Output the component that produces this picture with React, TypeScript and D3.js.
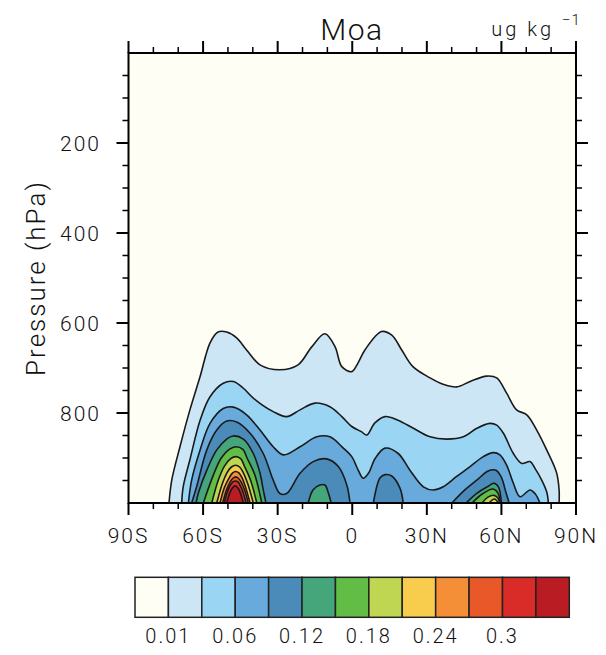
import React from "react";
import * as d3 from "d3";

// contour levels (ug kg-1) and fill colours (one more colour than levels)
const levels = [0.01, 0.03, 0.06, 0.09, 0.12, 0.15, 0.18, 0.21, 0.24, 0.27, 0.3, 0.33];
const fillColors = [
  "#fefef4", "#cde6f6", "#9bd5f4", "#68aadb", "#4a8bba", "#44a67a", "#62bd47",
  "#bfd652", "#f8cd4e", "#f48f38", "#e95828", "#d92b28", "#b91c22",
];
const colorbarLabels = ["0.01", "0.06", "0.12", "0.18", "0.24", "0.3"];

const latTicks = [-90, -60, -30, 0, 30, 60, 90];
const latLabels = ["90S", "60S", "30S", "0", "30N", "60N", "90N"];
const presTicks = [200, 400, 600, 800];

// contour tops, [lat, hPa], one list of lobes per level
const c001 = [[
  [-73.7, 1000], [-72.6, 949], [-69.3, 875], [-65.3, 793], [-61.2, 719], [-57.2, 644],
  [-54.0, 620], [-50.5, 620], [-46.5, 633], [-42.5, 660], [-37.1, 693], [-29.1, 704],
  [-21.8, 693], [-16.3, 653], [-11.0, 624], [-6.9, 653], [-4.2, 697], [-0.2, 708],
  [2.3, 689], [5.1, 660], [11.8, 619], [15.9, 627], [19.9, 660], [24.4, 697],
  [31.3, 722], [36.5, 736], [42.0, 742], [47.4, 730], [54.1, 718], [58.1, 722],
  [62.1, 756], [66.1, 793], [70.2, 804], [74.2, 838], [78.2, 882], [82.2, 933],
  [83.2, 971], [83.2, 1000],
]];
const c003 = [[
  [-68.6, 1000], [-68.0, 964], [-65.3, 904], [-61.2, 816], [-57.2, 764], [-51.9, 734],
  [-47.8, 730], [-43.8, 745], [-39.8, 767], [-31.8, 797], [-26.4, 808], [-21.0, 793],
  [-15.0, 778], [-9.0, 786], [-4.2, 808], [-0.2, 830], [3.8, 842], [5.8, 849],
  [9.1, 822], [13.2, 808], [18.4, 816], [24.6, 834], [31.3, 853], [38.0, 858],
  [44.7, 853], [50.1, 834], [55.4, 823], [58.1, 827], [60.8, 845], [64.8, 890],
  [68.2, 912], [71.5, 908], [73.5, 923], [76.2, 949], [78.2, 975], [78.9, 1000],
]];
const c006 = [[
  [-65.9, 1000], [-64.6, 949], [-61.2, 882], [-57.2, 823], [-51.9, 790], [-47.8, 787],
  [-42.5, 804], [-37.1, 838], [-31.8, 875], [-27.7, 893], [-21.0, 875], [-14.3, 853],
  [-9.0, 853], [-3.6, 878], [-0.2, 897], [2.4, 927], [4.4, 945], [6.5, 934],
  [9.2, 901], [13.2, 878], [18.5, 890], [23.2, 927], [28.6, 964], [32.6, 971],
  [36.6, 964], [42.0, 941], [47.4, 919], [52.7, 897], [56.7, 888], [59.4, 893],
  [62.1, 916], [64.8, 956], [67.5, 986], [71.5, 971], [73.5, 979], [75.5, 1000],
]];
const c009 = [
  [[-64.6, 1000], [-62.6, 964], [-58.5, 882], [-54.5, 838], [-50.5, 818], [-46.5, 820],
   [-41.1, 845], [-35.8, 890], [-31.8, 949], [-29.1, 979], [-26.4, 979], [-21.0, 934],
   [-15.7, 908], [-10.3, 902], [-5.6, 919], [-2.2, 960], [-0.9, 1000]],
  [[8.5, 1000], [11.2, 944], [13.2, 937], [15.9, 940], [19.2, 967], [20.5, 1000]],
  [[40.1, 1000], [45.3, 971], [50.6, 947], [54.6, 929], [57.8, 927], [59.9, 942],
   [61.8, 976], [63.1, 1000]],
];
const c012 = [
  [[-62.8, 1000], [-61.9, 978], [-58.5, 927], [-54.5, 882], [-50.5, 858], [-48.0, 851],
   [-43.8, 858], [-39.8, 890], [-37.1, 934], [-35.8, 971], [-34.7, 1000]],
  [[-17.7, 1000], [-15.8, 971], [-13.0, 960], [-11.0, 960], [-9.6, 978], [-8.5, 1000]],
  [[45.8, 1000], [50.2, 978], [54.3, 964], [57.0, 956], [58.8, 964], [60.0, 1000]],
];
const c015 = [
  [[-59.9, 1000], [-55.8, 937], [-52.7, 900], [-49.5, 881], [-46.8, 875], [-44.0, 881],
   [-42.3, 900], [-39.2, 937], [-36.4, 1000]],
  [[48.2, 1000], [52.3, 980], [56.6, 969], [58.6, 978], [59.6, 1000]],
];
const c018 = [
  [[-56.5, 1000], [-53.8, 948], [-51.4, 918], [-49.0, 902], [-46.8, 897], [-44.8, 902],
   [-43.4, 918], [-41.0, 948], [-38.4, 1000]],
  [[52.2, 1000], [54.6, 987], [57.0, 983], [58.6, 989], [59.3, 1000]],
];
const c021 = [
  [[-54.5, 1000], [-52.3, 958], [-50.4, 933], [-48.6, 920], [-46.9, 916], [-45.3, 920],
   [-43.8, 933], [-42.0, 958], [-39.8, 1000]],
  [[55.0, 1000], [57.2, 991], [58.8, 1000]],
];
const c024 = [[
  [-53.2, 1000], [-51.4, 965], [-49.5, 944], [-48.1, 933], [-46.9, 930], [-45.6, 933],
  [-44.3, 944], [-42.9, 965], [-41.1, 1000],
]];
const c027 = [[
  [-52.1, 1000], [-50.6, 971], [-49.2, 954], [-48.0, 945], [-46.9, 942], [-45.8, 945],
  [-44.6, 954], [-43.3, 971], [-41.8, 1000],
]];
const c030 = [[
  [-51.5, 1000], [-50.2, 975], [-49.1, 961], [-48.0, 953], [-47.0, 951], [-46.0, 953],
  [-45.1, 961], [-44.0, 975], [-42.7, 1000],
]];
const c033 = [[
  [-50.5, 1000], [-49.5, 981], [-48.6, 970], [-47.8, 964], [-47.1, 962], [-46.4, 964],
  [-45.6, 970], [-44.8, 981], [-43.8, 1000],
]];

const contours = [c001, c003, c006, c009, c012, c015, c018, c021, c024, c027, c030, c033];

const font = "Roboto, 'Liberation Sans', sans-serif";
const fw = 300;

export default function App() {
  const left = 128.5, right = 576, top = 53, bottom = 503;
  const x = d3.scaleLinear().domain([-90, 90]).range([left, right]);
  const y = d3.scaleLinear().domain([0, 1000]).range([top, bottom]);

  const line = d3
    .line<number[]>()
    .x((d) => x(d[0]))
    .y((d) => y(d[1]))
    .curve(d3.curveCatmullRom.alpha(0.5));

  const minorLat = d3.range(-80, 90, 10).filter((v) => v % 30 !== 0);
  const minorPres = d3.range(50, 1000, 50).filter((v) => v % 200 !== 0);

  // colorbar
  const cbLeft = 135, cbRight = 569.3, cbTop = 577.3, cbBottom = 617.3;
  const cb = d3.scaleLinear().domain([0, fillColors.length]).range([cbLeft, cbRight]);

  const axisW = 2;

  return (
    <svg width={606} height={655} style={{ position: "absolute", left: 0, top: 0, background: "#fff" }}>
      <defs>
        <clipPath id="plot">
          <rect x={left} y={top} width={right - left} height={bottom - top} />
        </clipPath>
      </defs>

      <rect x={left} y={top} width={right - left} height={bottom - top} fill={fillColors[0]} />

      <g clipPath="url(#plot)">
        {contours.map((lobes, i) =>
          lobes.map((pts, j) => (
            <path key={`f${i}-${j}`} d={line(pts as number[][]) + "Z"} fill={fillColors[i + 1]} stroke="none" />
          ))
        )}
        {contours.map((lobes, i) =>
          lobes.map((pts, j) => (
            <path key={`l${i}-${j}`} d={line(pts as number[][]) || ""} fill="none" stroke="#1a1a1a" strokeWidth={1.6} />
          ))
        )}
      </g>

      {/* frame */}
      <rect x={left} y={top} width={right - left} height={bottom - top} fill="none" stroke="#000" strokeWidth={axisW} />

      {/* latitude ticks, bottom and top */}
      {latTicks.map((v) => (
        <g key={`lt${v}`}>
          <line x1={x(v)} x2={x(v)} y1={bottom} y2={bottom + 12} stroke="#000" strokeWidth={axisW} />
          <line x1={x(v)} x2={x(v)} y1={top} y2={top - 12} stroke="#000" strokeWidth={axisW} />
        </g>
      ))}
      {minorLat.map((v) => (
        <g key={`lm${v}`}>
          <line x1={x(v)} x2={x(v)} y1={bottom} y2={bottom + 6} stroke="#000" strokeWidth={1.5} />
          <line x1={x(v)} x2={x(v)} y1={top} y2={top - 6} stroke="#000" strokeWidth={1.5} />
        </g>
      ))}
      {latTicks.map((v, i) => (
        <text key={`ll${v}`} x={x(v)} y={543} textAnchor="middle" fontFamily={font} fontWeight={fw} fontSize={21} letterSpacing={2} fill="#111">
          {latLabels[i]}
        </text>
      ))}

      {/* pressure ticks, left and right */}
      {presTicks.map((v) => (
        <g key={`pt${v}`}>
          <line x1={left} x2={left - 12} y1={y(v)} y2={y(v)} stroke="#000" strokeWidth={axisW} />
          <line x1={right} x2={right + 12} y1={y(v)} y2={y(v)} stroke="#000" strokeWidth={axisW} />
          <text x={101} y={y(v) + 7.5} textAnchor="end" fontFamily={font} fontWeight={fw} fontSize={21} letterSpacing={2} fill="#111">
            {v}
          </text>
        </g>
      ))}
      {minorPres.map((v) => (
        <g key={`pm${v}`}>
          <line x1={left} x2={left - 6} y1={y(v)} y2={y(v)} stroke="#000" strokeWidth={1.5} />
          <line x1={right} x2={right + 6} y1={y(v)} y2={y(v)} stroke="#000" strokeWidth={1.5} />
        </g>
      ))}

      <text
        transform={`translate(45,${(top + bottom) / 2}) rotate(-90)`}
        textAnchor="middle"
        fontFamily={font}
        fontWeight={fw}
        fontSize={26}
        letterSpacing={2}
        fill="#111"
      >
        Pressure (hPa)
      </text>

      <text x={352} y={40} textAnchor="middle" fontFamily={font} fontWeight={fw} fontSize={30} letterSpacing={1.5} fill="#111">
        Moa
      </text>
      <text x={554} y={36} textAnchor="end" fontFamily={font} fontWeight={fw} fontSize={20} letterSpacing={3} fill="#111">
        ug kg
      </text>
      <text x={562} y={25} fontFamily={font} fontWeight={fw} fontSize={15} letterSpacing={1} fill="#111">
        −1
      </text>

      {/* colorbar */}
      {fillColors.map((c, i) => (
        <rect key={`cb${i}`} x={cb(i)} y={cbTop} width={cb(i + 1) - cb(i)} height={cbBottom - cbTop} fill={c} stroke="#222" strokeWidth={1.5} />
      ))}
      {levels.map((v, i) =>
        i % 2 === 0 ? (
          <text key={`cl${i}`} x={cb(i + 1)} y={643} textAnchor="middle" fontFamily={font} fontWeight={fw} fontSize={20} letterSpacing={2} fill="#111">
            {colorbarLabels[i / 2]}
          </text>
        ) : null
      )}
    </svg>
  );
}
